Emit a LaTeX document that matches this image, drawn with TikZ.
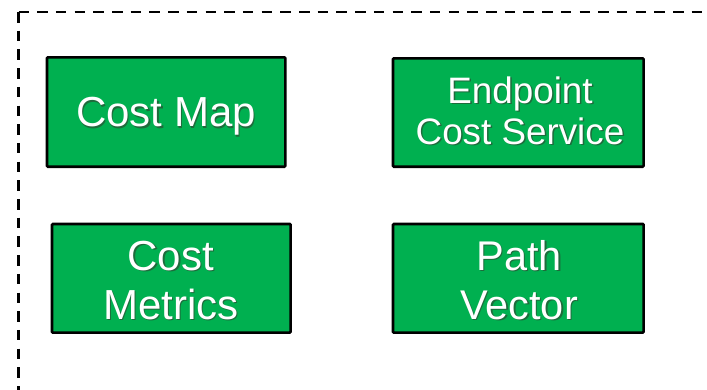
\documentclass[tikz,border=0pt]{standalone}
\usepackage{fontspec}
\setmainfont{Liberation Sans}
\definecolor{boxgreen}{HTML}{00B050}
\definecolor{txtshadow}{HTML}{1E6B3C}
% white text with a soft drop shadow, lines centred, baseline on the first line
\newcommand\shadowlabel[1]{%
  \makebox[0pt][l]{\kern1.5pt\raisebox{-1.5pt}{\color{txtshadow}%
    \begin{tabular}[t]{@{}c@{}}#1\end{tabular}}}%
  \begin{tabular}[t]{@{}c@{}}#1\end{tabular}}
\begin{document}
\begin{tikzpicture}[x=1pt,y=-1pt,
  gbox/.style={draw=black, fill=boxgreen, line width=2.6pt, rounded corners=1pt,
    inner sep=0pt, outer sep=0pt},
  glabel/.style={inner sep=0pt, anchor=base, text=white},
  frame/.style={draw=black, line width=2.6pt, dash pattern=on 10.5pt off 8.2pt}]
\useasboundingbox (0,0) rectangle (707,389);
\clip (0,0) rectangle (707,389);

% open dashed frame running off the right and bottom edges
\coordinate (corner) at (18.5,12);
\coordinate (frameS) at (18.5,420);
\coordinate (frameE) at (740,12);
\draw[frame] (corner) -- (frameS);
\draw[frame] (corner) -- (frameE);

% service boxes
\node[gbox, minimum width=238.4pt, minimum height=109.4pt] (costmap)  at (166.2,112)   {};
\node[gbox, minimum width=250.7pt, minimum height=108.4pt] (endpoint) at (518.3,112.5) {};
\node[gbox, minimum width=238.7pt, minimum height=108.7pt] (metrics)  at (171.3,278.3) {};
\node[gbox, minimum width=250.7pt, minimum height=108.7pt] (pathvec)  at (518.3,278.3) {};

% labels, placed on the baseline of their first line
\node[glabel, font=\fontsize{42}{49}\selectfont] (costmapL)  at (166,126.7)
  {\shadowlabel{Cost Map}};
\node[glabel, font=\fontsize{36.8}{40.7}\selectfont] (endpointL) at (520,103.3)
  {\shadowlabel{Endpoint\\Cost Service}};
\node[glabel, font=\fontsize{42}{49}\selectfont] (metricsL)  at (170.8,270)
  {\shadowlabel{Cost\\Metrics}};
\node[glabel, font=\fontsize{41.5}{49}\selectfont] (pathvecL)  at (519,270)
  {\shadowlabel{Path\\Vector}};
\end{tikzpicture}
\end{document}
